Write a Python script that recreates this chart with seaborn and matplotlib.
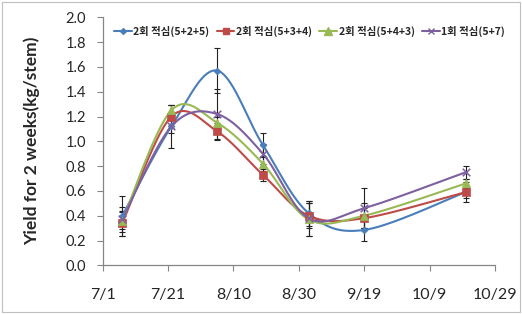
import numpy as np
import pandas as pd
import matplotlib
matplotlib.use("Agg")
import matplotlib.pyplot as plt
from matplotlib.lines import Line2D
from matplotlib.patches import Rectangle
import seaborn as sns

sns.set_style("white")
plt.rcParams['font.family'] = ['Lato', 'Noto Sans CJK KR', 'DejaVu Sans']

# ---- data ----
harvest_dates = ['7/7', '7/22', '8/5', '8/19', '9/2', '9/19', '10/20']
series_names = ['2회 적심(5+2+5)', '2회 적심(5+3+4)', '2회 적심(5+4+3)', '1회 적심(5+7)']
yield_1 = [0.40, 1.12, 1.57, 0.97, 0.42, 0.285, 0.59]
yield_2 = [0.34, 1.20, 1.08, 0.73, 0.40, 0.38, 0.59]
yield_3 = [0.36, 1.25, 1.15, 0.82, 0.37, 0.40, 0.66]
yield_4 = [0.37, 1.12, 1.22, 0.90, 0.38, 0.46, 0.75]
err_1 = [0.16, 0.17, 0.18, 0.10, 0.10, 0.09, 0.05]
err_2 = [0.10, 0.09, 0.07, 0.05, 0.10, 0.08, 0.08]
err_3 = [0.07, 0.04, 0.05, 0.06, 0.13, 0.10, 0.04]
err_4 = [0.10, 0.05, 0.20, 0.08, 0.14, 0.16, 0.05]
tick_labels = ['7/1', '7/21', '8/10', '8/30', '9/19', '10/9', '10/29']

colors = ['#4A7EBB', '#BE4B48', '#98B954', '#7D60A0']
markers = ['D', 's', '^', 'x']
msizes = [3.5, 5.5, 6, 5.5]

start = pd.Timestamp('2012-07-01')
def to_day(s):
    return (pd.to_datetime('2012/' + s, format='%Y/%m/%d') - start).days

x_days = np.array([to_day(d) for d in harvest_dates], dtype=float)
tick_pos = [to_day(t) for t in tick_labels]

# ---- figure ----
W, H = 522, 314
fig = plt.figure(figsize=(W / 100, H / 100), dpi=100)
ax = fig.add_axes([102.7 / W, 1 - 265.3 / H, (495 - 102.7) / W, (265.3 - 17.3) / H])

sx = (495 - 102.7) / 120.0   # px per day
sy = 124.0                   # px per unit


def smooth(x, y, n=40):
    X = np.asarray(x) * sx
    Y = np.asarray(y) * sy
    P = np.column_stack([X, Y])
    out = []
    m = len(P)
    for i in range(m - 1):
        p0 = P[max(i - 1, 0)]
        p1 = P[i]
        p2 = P[i + 1]
        p3 = P[min(i + 2, m - 1)]
        c1 = p1 + (p2 - p0) / 6.0
        c2 = p2 - (p3 - p1) / 6.0
        t = np.linspace(0, 1, n, endpoint=(i == m - 2))[:, None]
        b = ((1 - t) ** 3) * p1 + 3 * ((1 - t) ** 2) * t * c1 + 3 * (1 - t) * t ** 2 * c2 + t ** 3 * p2
        out.append(b)
    B = np.vstack(out)
    return B[:, 0] / sx, B[:, 1] / sy


ys = [yield_1, yield_2, yield_3, yield_4]
es = [err_1, err_2, err_3, err_4]

for k in range(4):
    cx, cy = smooth(x_days, ys[k])
    sns.lineplot(x=cx, y=cy, sort=False, estimator=None, color=colors[k], lw=1.5, ax=ax, zorder=3)

for k in range(4):
    ax.errorbar(x_days, ys[k], yerr=es[k], fmt='none', ecolor='#222222',
                elinewidth=0.8, capsize=2.5, capthick=0.8, zorder=2)

for k in range(4):
    sns.scatterplot(x=x_days, y=ys[k], marker=markers[k], s=msizes[k] ** 2,
                    color=colors[k], edgecolor=colors[k] if markers[k] != 'x' else None,
                    linewidth=1.1 if markers[k] == 'x' else 0.5, ax=ax, zorder=4)

ax.set_xlim(0, 120)
ax.set_ylim(0, 2.0)
ax.set_xticks(tick_pos)
ax.set_xticklabels(tick_labels)
ax.set_yticks(np.arange(0, 2.01, 0.2))
ax.set_yticklabels([f'{v:.1f}' for v in np.arange(0, 2.01, 0.2)])
ax.tick_params(axis='x', labelsize=11.5, length=4, width=0.8, color='#868686', pad=12, direction='out', bottom=True)
ax.tick_params(axis='y', labelsize=10.5, length=4, width=0.8, color='#868686', pad=8, direction='out', left=True)
for s in ['top', 'right']:
    ax.spines[s].set_visible(False)
for s in ['left', 'bottom']:
    ax.spines[s].set_color('#868686')
    ax.spines[s].set_linewidth(0.9)
ax.set_xlabel('')
ax.set_ylabel('Yield for 2 weeks(kg/stem)', fontsize=12.5, fontweight='bold', labelpad=10)
ax.yaxis.set_label_coords(-(102.7 - 40) / (495 - 102.7), 0.5)

handles = []
for k in range(4):
    handles.append(Line2D([0], [0], color=colors[k], lw=1.5, marker=markers[k],
                          markersize=msizes[k] * 0.85, markeredgewidth=1.0))
leg = fig.legend(handles, series_names, loc='center left', bbox_to_anchor=(114 / W, 1 - 31 / H),
                 ncol=4, frameon=False, handlelength=1.7, handletextpad=0.15, columnspacing=0.7,
                 borderaxespad=0, borderpad=0,
                 prop={'family': ['Noto Sans CJK KR', 'DejaVu Sans'], 'size': 7.5, 'weight': 'bold'})

fig.patches.append(Rectangle((2 / W, 2 / H), (W - 4) / W, (H - 4) / H, transform=fig.transFigure,
                             fill=False, edgecolor='#BFBFBF', lw=0.8))

fig.savefig('out.png', dpi=100)
